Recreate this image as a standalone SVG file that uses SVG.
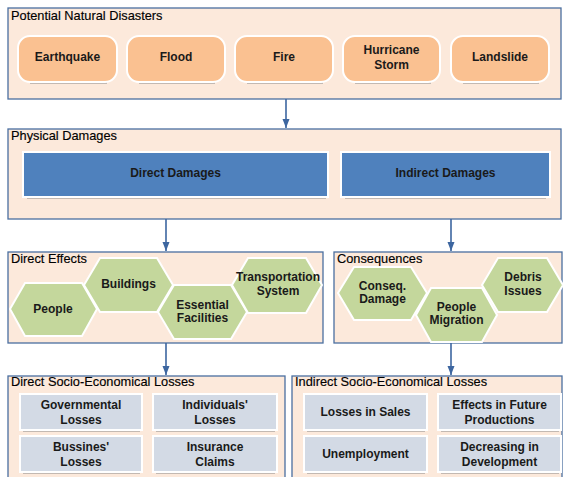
<svg xmlns="http://www.w3.org/2000/svg" width="563" height="477" viewBox="0 0 563 477">
  <defs>
    <marker id="arrow" markerWidth="8" markerHeight="9" refX="4" refY="9" orient="0" markerUnits="userSpaceOnUse" viewBox="0 0 8 9">
      <path d="M0.5,0 L7.5,0 L4,9 Z" fill="#3d66a0"/>
    </marker>
  </defs>
  <style>
    .panel { fill: #fce9db; stroke: #4a6fa0; stroke-width: 1.3; }
    .ptitle { font-family: "Liberation Sans", Arial, sans-serif; font-size: 12.8px; fill: #000; stroke: #000; stroke-width: 0.15; }
    .lbl { font-family: "Liberation Sans", Arial, sans-serif; font-size: 12px; font-weight: bold; fill: #1a1a1a; text-anchor: middle; }
    .disaster { fill: #fac191; stroke: #ffffff; stroke-width: 2; }
    .damage { fill: #4f81bd; stroke: #ffffff; stroke-width: 2; }
    .hex { fill: #c4d79c; stroke: #ffffff; stroke-width: 2; }
    .loss { fill: #d3dae5; stroke: #ffffff; stroke-width: 2; }
    .shadow { stroke: #8a8a8a; stroke-width: 1; fill: none; }
    .conn { stroke: #3d66a0; stroke-width: 1.6; fill: none; }
  </style>

  <!-- Panel: Potential Natural Disasters -->
  <g id="panel-disasters">
    <rect class="panel" x="8" y="8" width="553" height="91"/>
    <text class="ptitle" x="11" y="20">Potential Natural Disasters</text>
  </g>
  <g id="node-earthquake">
    <line class="shadow" x1="30" y1="83" x2="107" y2="83"/>
    <rect class="disaster" x="18" y="36" width="99" height="46" rx="12"/>
    <text class="lbl" x="67.5" y="61">Earthquake</text>
  </g>
  <g id="node-flood">
    <line class="shadow" x1="139" y1="83" x2="215" y2="83"/>
    <rect class="disaster" x="127" y="36" width="98" height="46" rx="12"/>
    <text class="lbl" x="176" y="61">Flood</text>
  </g>
  <g id="node-fire">
    <line class="shadow" x1="247" y1="83" x2="323" y2="83"/>
    <rect class="disaster" x="235" y="36" width="98" height="46" rx="12"/>
    <text class="lbl" x="284" y="61">Fire</text>
  </g>
  <g id="node-hurricane">
    <line class="shadow" x1="355" y1="83" x2="431" y2="83"/>
    <rect class="disaster" x="343" y="36" width="97" height="46" rx="12"/>
    <text class="lbl" x="391.5" y="54">Hurricane</text>
    <text class="lbl" x="391.5" y="69">Storm</text>
  </g>
  <g id="node-landslide">
    <line class="shadow" x1="463" y1="83" x2="539" y2="83"/>
    <rect class="disaster" x="451" y="36" width="98" height="46" rx="12"/>
    <text class="lbl" x="500" y="61">Landslide</text>
  </g>

  <!-- Panel: Physical Damages -->
  <g id="panel-physical">
    <rect class="panel" x="8" y="129" width="553" height="90"/>
    <text class="ptitle" x="11" y="140">Physical Damages</text>
  </g>
  <g id="node-direct-damages">
    <line class="shadow" x1="27" y1="198" x2="326" y2="198"/>
    <rect class="damage" x="23" y="152" width="305" height="45"/>
    <text class="lbl" x="175.5" y="177">Direct Damages</text>
  </g>
  <g id="node-indirect-damages">
    <line class="shadow" x1="345" y1="198" x2="546" y2="198"/>
    <rect class="damage" x="341" y="152" width="209" height="45"/>
    <text class="lbl" x="445.5" y="177">Indirect Damages</text>
  </g>

  <!-- Panel: Direct Effects -->
  <g id="panel-direct-effects">
    <rect class="panel" x="8" y="252" width="315" height="91"/>
    <text class="ptitle" x="11" y="263">Direct Effects</text>
  </g>
  <g id="node-people">
    <polygon class="hex" points="10,309 25,283 82,283 97,309 82,336 25,336"/>
    <text class="lbl" x="53" y="313">People</text>
  </g>
  <g id="node-buildings">
    <polygon class="hex" points="84,285 100,258 157,258 173,285 157,312 100,312"/>
    <text class="lbl" x="128.5" y="288">Buildings</text>
  </g>
  <g id="node-essential">
    <polygon class="hex" points="158,312 174,285 231,285 247,312 231,339 174,339"/>
    <text class="lbl" x="202.5" y="309">Essential</text>
    <text class="lbl" x="202.5" y="322">Facilities</text>
  </g>
  <g id="node-transport">
    <polygon class="hex" points="232,285 248,258 306,258 322,285 306,313 248,313"/>
    <text class="lbl" x="278" y="281">Transportation</text>
    <text class="lbl" x="278" y="295">System</text>
  </g>

  <!-- Panel: Consequences -->
  <g id="panel-consequences">
    <rect class="panel" x="334" y="252" width="228" height="91"/>
    <text class="ptitle" x="337" y="263">Consequences</text>
  </g>
  <g id="node-conseq-damage">
    <polygon class="hex" points="338,293 354,267 411,267 427,293 411,320 354,320"/>
    <text class="lbl" x="382.5" y="290">Conseq.</text>
    <text class="lbl" x="382.5" y="303">Damage</text>
  </g>
  <g id="node-migration">
    <polygon class="hex" points="416,315 431,288 482,288 497,315 482,342 431,342"/>
    <text class="lbl" x="456.5" y="311">People</text>
    <text class="lbl" x="456.5" y="324">Migration</text>
  </g>
  <g id="node-debris">
    <polygon class="hex" points="482,285 498,258 547,258 563,285 547,312 498,312"/>
    <text class="lbl" x="523" y="281">Debris</text>
    <text class="lbl" x="523" y="295">Issues</text>
  </g>

  <!-- Panel: Direct Socio-Economical Losses -->
  <g id="panel-direct-losses">
    <rect class="panel" x="8" y="376" width="277" height="110"/>
    <text class="ptitle" x="11" y="386">Direct Socio-Economical Losses</text>
  </g>
  <g id="node-governmental">
    <line class="shadow" x1="23" y1="431" x2="140" y2="431"/>
    <rect class="loss" x="20" y="394" width="122" height="36"/>
    <text class="lbl" x="81" y="409">Governmental</text>
    <text class="lbl" x="81" y="424">Losses</text>
  </g>
  <g id="node-individuals">
    <line class="shadow" x1="156" y1="431" x2="275" y2="431"/>
    <rect class="loss" x="153" y="394" width="124" height="36"/>
    <text class="lbl" x="215" y="409">Individuals'</text>
    <text class="lbl" x="215" y="424">Losses</text>
  </g>
  <g id="node-bussines">
    <line class="shadow" x1="23" y1="473" x2="140" y2="473"/>
    <rect class="loss" x="20" y="436" width="122" height="36"/>
    <text class="lbl" x="81" y="451">Bussines'</text>
    <text class="lbl" x="81" y="466">Losses</text>
  </g>
  <g id="node-insurance">
    <line class="shadow" x1="156" y1="473" x2="275" y2="473"/>
    <rect class="loss" x="153" y="436" width="124" height="36"/>
    <text class="lbl" x="215" y="451">Insurance</text>
    <text class="lbl" x="215" y="466">Claims</text>
  </g>

  <!-- Panel: Indirect Socio-Economical Losses -->
  <g id="panel-indirect-losses">
    <rect class="panel" x="292" y="376" width="270" height="110"/>
    <text class="ptitle" x="295" y="386">Indirect Socio-Economical Losses</text>
  </g>
  <g id="node-sales">
    <line class="shadow" x1="307" y1="431" x2="425" y2="431"/>
    <rect class="loss" x="304" y="394" width="123" height="36"/>
    <text class="lbl" x="365.5" y="416">Losses in Sales</text>
  </g>
  <g id="node-future">
    <line class="shadow" x1="441" y1="431" x2="559" y2="431"/>
    <rect class="loss" x="438" y="394" width="123" height="36"/>
    <text class="lbl" x="499.5" y="409">Effects in Future</text>
    <text class="lbl" x="499.5" y="424">Productions</text>
  </g>
  <g id="node-unemployment">
    <line class="shadow" x1="307" y1="473" x2="425" y2="473"/>
    <rect class="loss" x="304" y="436" width="123" height="36"/>
    <text class="lbl" x="365.5" y="458">Unemployment</text>
  </g>
  <g id="node-development">
    <line class="shadow" x1="441" y1="473" x2="559" y2="473"/>
    <rect class="loss" x="438" y="436" width="123" height="36"/>
    <text class="lbl" x="499.5" y="451">Decreasing in</text>
    <text class="lbl" x="499.5" y="466">Development</text>
  </g>

  <!-- Connectors between stages -->
  <g id="connectors">
    <line class="conn" x1="286" y1="99" x2="286" y2="128" marker-end="url(#arrow)"/>
    <line class="conn" x1="166" y1="219" x2="166" y2="251" marker-end="url(#arrow)"/>
    <line class="conn" x1="451" y1="219" x2="451" y2="251" marker-end="url(#arrow)"/>
    <line class="conn" x1="166" y1="343" x2="166" y2="375" marker-end="url(#arrow)"/>
    <line class="conn" x1="451" y1="343" x2="451" y2="375" marker-end="url(#arrow)"/>
  </g>
</svg>
